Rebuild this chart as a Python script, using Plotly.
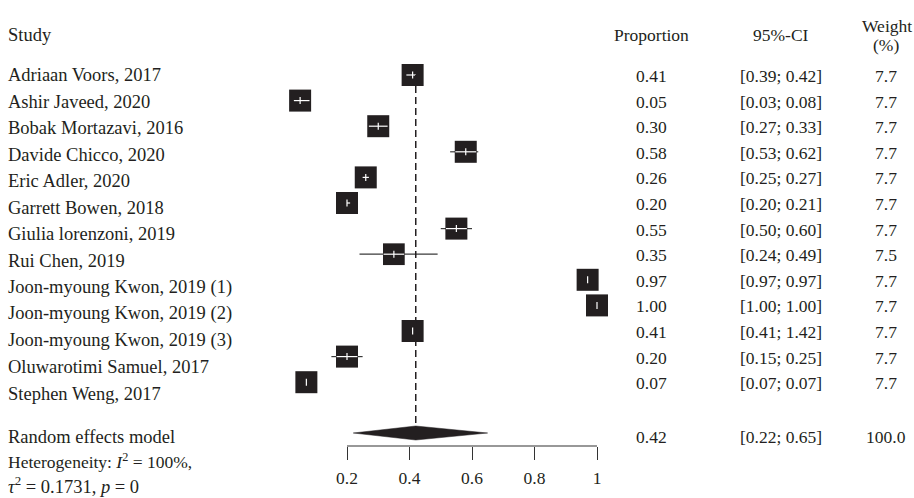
import plotly.graph_objects as go

studies = ["Adriaan Voors, 2017", "Ashir Javeed, 2020", "Bobak Mortazavi, 2016",
           "Davide Chicco, 2020", "Eric Adler, 2020", "Garrett Bowen, 2018",
           "Giulia lorenzoni, 2019", "Rui Chen, 2019", "Joon-myoung Kwon, 2019 (1)",
           "Joon-myoung Kwon, 2019 (2)", "Joon-myoung Kwon, 2019 (3)",
           "Oluwarotimi Samuel, 2017", "Stephen Weng, 2017"]
proportion = [0.41, 0.05, 0.30, 0.58, 0.26, 0.20, 0.55, 0.35, 0.97, 1.00, 0.41, 0.20, 0.07]
ci_lower = [0.39, 0.03, 0.27, 0.53, 0.25, 0.20, 0.50, 0.24, 0.97, 1.00, 0.41, 0.15, 0.07]
ci_upper = [0.42, 0.08, 0.33, 0.62, 0.27, 0.21, 0.60, 0.49, 0.97, 1.00, 1.42, 0.25, 0.07]
# drawn interval for Kwon (3) in the reference is negligible
ci_upper_drawn = [0.42, 0.08, 0.33, 0.62, 0.27, 0.21, 0.60, 0.49, 0.97, 1.00, 0.41, 0.25, 0.07]
weight = [7.7, 7.7, 7.7, 7.7, 7.7, 7.7, 7.7, 7.5, 7.7, 7.7, 7.7, 7.7, 7.7]
pooled = 0.42
pooled_lo = 0.22
pooled_hi = 0.65
pooled_weight = 100.0
tick_vals = [0.2, 0.4, 0.6, 0.8, 1.0]
tick_text = ["0.2", "0.4", "0.6", "0.8", "1"]

W, H = 914, 498
PX0 = 284.5        # pixel of value 0
PXU = 312.5        # pixels per unit
FONT = "Liberation Serif"
INK = "#231f20"
FS = 17.5
FS_NAMES = 18.5

def row_y(i):
    return 75 + 25.6 * i

def label_y(i):
    return 75 + 26.55 * i

sum_y = 433
axis_y = 446

fig = go.Figure()

# CI lines (outer, dark)
xs, ys = [], []
for i in range(len(studies)):
    xs += [ci_lower[i], ci_upper_drawn[i], None]
    ys += [row_y(i), row_y(i), None]
fig.add_trace(go.Scatter(x=xs, y=ys, mode="lines", line=dict(color="#3a3a3a", width=1.2),
                         hoverinfo="skip", showlegend=False))

# squares
sizes = [22 * (w / 7.7) ** 0.5 for w in weight]
fig.add_trace(go.Scatter(x=proportion, y=[row_y(i) for i in range(len(studies))],
                         mode="markers",
                         marker=dict(symbol="square", size=sizes, color=INK, opacity=1,
                                     line=dict(width=0)),
                         hoverinfo="skip", showlegend=False))

# white inside lines and ticks
wx, wy = [], []
for i in range(len(studies)):
    half = sizes[i] / 2 / PXU * 0.95
    a = max(ci_lower[i], proportion[i] - half)
    b = min(ci_upper_drawn[i], proportion[i] + half)
    if b > a:
        wx += [a, b, None]
        wy += [row_y(i), row_y(i), None]
    wx += [proportion[i], proportion[i], None]
    wy += [row_y(i) - 3.5, row_y(i) + 3.5, None]
fig.add_trace(go.Scatter(x=wx, y=wy, mode="lines", line=dict(color="white", width=1.2),
                         hoverinfo="skip", showlegend=False))

# pooled diamond
fig.add_trace(go.Scatter(x=[pooled_lo, pooled, pooled_hi, pooled, pooled_lo],
                         y=[sum_y, sum_y - 7, sum_y, sum_y + 7, sum_y],
                         mode="lines", fill="toself", fillcolor=INK,
                         line=dict(color=INK, width=0.5), hoverinfo="skip", showlegend=False))

shapes = [
    dict(type="line", xref="x", yref="y", x0=pooled, x1=pooled, y0=64, y1=sum_y - 6,
         line=dict(color=INK, width=1.5, dash="7px,4px")),
    dict(type="line", xref="x", yref="y", x0=tick_vals[0], x1=tick_vals[-1], y0=axis_y, y1=axis_y,
         line=dict(color="#333333", width=1.2)),
]

ann = []
def txt(x, y, s, anchor="left", size=FS):
    ann.append(dict(xref="paper", yref="y", x=x / W, y=y, text=s, showarrow=False,
                    xanchor=anchor, yanchor="middle", font=dict(family=FONT, size=size, color=INK)))

txt(6, 35, "Study", size=FS_NAMES)
txt(651, 35, "Proportion", "center")
txt(781, 35, "95%-CI", "center")
txt(914, 26, "Weight", "right")
txt(886, 45, "(%)", "center")

for i, s in enumerate(studies):
    txt(6, label_y(i), s, size=FS_NAMES)
    txt(651, row_y(i) + 1, f"{proportion[i]:.2f}", "center")
    txt(781, row_y(i) + 1, f"[{ci_lower[i]:.2f}; {ci_upper[i]:.2f}]", "center")
    txt(886, row_y(i) + 1, f"{weight[i]:.1f}", "center")

txt(6, 437, "Random effects model", size=FS_NAMES)
txt(6, 461, "Heterogeneity: <i>I</i><sup>2</sup> = 100%,", size=FS)
txt(6, 485, "<i>τ</i><sup>2</sup> = 0.1731, <i>p</i> = 0", size=18.5)
txt(651, 437, f"{pooled:.2f}", "center")
txt(781, 437, f"[{pooled_lo:.2f}; {pooled_hi:.2f}]", "center")
txt(886, 437, f"{pooled_weight:.1f}", "center")

fig.update_layout(
    width=W, height=H, margin=dict(l=0, r=0, t=0, b=0),
    plot_bgcolor="white", paper_bgcolor="white",
    shapes=shapes, annotations=ann, showlegend=False,
    xaxis=dict(domain=[0, 1], range=[-PX0 / PXU, (W - PX0) / PXU], anchor="free",
               position=1 - axis_y / H, showgrid=False, zeroline=False, showline=False,
               tickmode="array", tickvals=tick_vals, ticktext=tick_text,
               ticks="outside", ticklen=13, tickwidth=1.2, tickcolor="#333333",
               ticklabelstandoff=3,
               tickfont=dict(family=FONT, size=FS, color=INK)),
    yaxis=dict(domain=[0, 1], range=[H, 0], visible=False, showgrid=False, zeroline=False),
)

fig.write_html("out.html", config={"displayModeBar": False},
               post_script="document.body.style.margin='0';")
